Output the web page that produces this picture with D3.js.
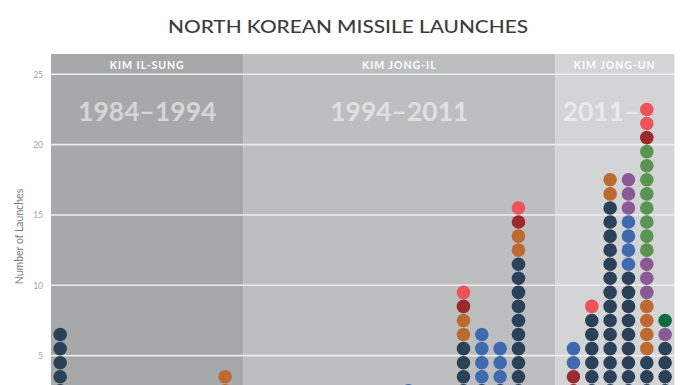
<!DOCTYPE html>
<html>
<head>
<meta charset="utf-8">
<script src="https://cdn.jsdelivr.net/npm/d3@7"></script>
<style>
  html, body { margin: 0; padding: 0; background: #ffffff; }
  svg { display: block; font-family: Lato, "Open Sans", sans-serif; }
</style>
</head>
<body>
<svg id="chart" width="696" height="385"></svg>
<script>
// ---------- DATA ----------
const years = [1984,1985,1986,1987,1988,1989,1990,1991,1992,1993,
               1994,1995,1996,1997,1998,1999,2000,2001,2002,2003,
               2004,2005,2006,2007,2008,2009,2010,2011,2012,2013,
               2014,2015,2016,2017];
const yTicks = [5, 10, 15, 20, 25];

// launches per year, by missile family (index aligned with years)
const scud      = [7,0,2,0,0,0,1,2,0,0, 0,0,0,0,0,0,0,0,0,0, 0,0,6,3,3,12,0,0,2,8, 16,11,5,6];
const toksa     = [0,0,0,0,0,0,0,0,0,0, 0,0,0,0,0,0,0,0,0,3, 0,0,0,4,3,0,0,0,2,0, 0,4,0,0];
const nodong    = [0,0,0,0,0,0,0,0,0,4, 0,0,0,0,0,0,0,0,0,0, 0,0,2,0,0,2,0,0,0,0, 2,0,4,0];
const slbm      = [0,0,0,0,0,0,0,0,0,0, 0,0,0,0,0,0,0,0,0,0, 0,0,0,0,0,0,0,0,0,0, 0,3,3,1];
const musudan   = [0,0,0,0,0,0,0,0,0,0, 0,0,0,0,0,0,0,0,0,0, 0,0,0,0,0,0,0,0,0,0, 0,0,8,0];
const hwasong   = [0,0,0,0,0,0,0,0,0,0, 0,0,0,0,0,0,0,0,0,0, 0,0,0,0,0,0,0,0,0,0, 0,0,0,1];
const taepodong = [0,0,0,0,0,0,0,0,0,0, 0,0,0,0,1,0,0,0,0,0, 0,0,1,0,0,1,0,0,2,0, 0,0,1,0];
const other     = [0,0,0,0,0,0,0,0,0,0, 0,0,0,0,0,0,0,0,0,0, 0,0,1,0,0,1,0,0,0,1, 0,0,2,0];

const seriesNames  = ["Scud", "Toksa", "Nodong", "SLBM", "Musudan", "Hwasong", "Taepodong", "Other"];
const seriesValues = [scud, toksa, nodong, slbm, musudan, hwasong, taepodong, other];
const seriesColors = ["#2b4158", "#3f6aae", "#bd6a30", "#8a5a95", "#5a9450", "#0e6b40", "#9c2a2c", "#ef535a"];
const stackOrder     = ["Scud", "Toksa", "Nodong", "SLBM", "Musudan", "Hwasong", "Taepodong", "Other"];
const stackOrder2012 = ["Scud", "Taepodong", "Toksa"];

const eraNames  = ["KIM IL-SUNG", "KIM JONG-IL", "KIM JONG-UN"];
const eraLabels = ["1984\u20131994", "1994\u20132011", "2011\u2013"];
const eraStart  = [1984, 1994, 2011];
const eraEnd    = [1994, 2011, 2017];
const eraColors = ["#a7a8aa", "#bdbec0", "#d3d4d6"];

// ---------- LAYOUT ----------
const svg = d3.select("#chart");
const plotLeft = 51, plotRight = 674.3, plotTop = 54;

const x = d3.scaleBand().domain(years).range([plotLeft, plotRight]).padding(0);
const y = d3.scaleLinear().domain([0, 25]).range([426, 74.3]);
const color = d3.scaleOrdinal().domain(seriesNames).range(seriesColors);
const bw = x.bandwidth();
const cx = yr => x(yr) + bw / 2;

// title
svg.append("text")
  .attr("x", 348).attr("y", 33.3)
  .attr("text-anchor", "middle")
  .attr("font-size", 17.6)
  .attr("font-weight", 500)
  .attr("fill", "#3c3c3c")
  .attr("textLength", 360).attr("lengthAdjust", "spacingAndGlyphs")
  .text("NORTH KOREAN MISSILE LAUNCHES");

// era panels
const eras = eraNames.map((n, i) => ({
  name: n, label: eraLabels[i], color: eraColors[i],
  x0: i === 0 ? plotLeft : cx(eraStart[i]),
  x1: i === eraNames.length - 1 ? plotRight : cx(eraEnd[i])
}));

svg.append("g").selectAll("rect").data(eras).join("rect")
  .attr("x", d => d.x0).attr("y", plotTop)
  .attr("width", d => d.x1 - d.x0).attr("height", y(0) - plotTop + 40)
  .attr("fill", d => d.color);

// grid lines
svg.append("g").selectAll("line").data(yTicks).join("line")
  .attr("x1", plotLeft).attr("x2", plotRight)
  .attr("y1", d => y(d)).attr("y2", d => y(d))
  .attr("stroke", "#ececec").attr("stroke-width", 1.6);

// y axis labels
const yAxis = d3.axisLeft(y).tickValues(yTicks).tickSize(0).tickPadding(0);
const gy = svg.append("g").attr("transform", "translate(43,0)").call(yAxis);
gy.select(".domain").remove();
gy.selectAll("text")
  .attr("font-family", "Lato, sans-serif")
  .attr("font-size", 8.5)
  .attr("fill", "#a3a3a3");

svg.append("text")
  .attr("transform", "translate(22.5,236.5) rotate(-90)")
  .attr("text-anchor", "middle")
  .attr("font-size", 10.5)
  .attr("fill", "#7a7a7a")
  .text("Number of Launches");

// era headers
svg.append("g").selectAll("text").data(eras).join("text")
  .attr("x", d => (d.x0 + d.x1) / 2).attr("y", 69)
  .attr("text-anchor", "middle")
  .attr("font-size", 10.5)
  .attr("font-weight", 700)
  .attr("letter-spacing", 1.0)
  .attr("fill", "#ffffff")
  .text(d => d.name);

// big era years
svg.append("g").selectAll("text").data(eras).join("text")
  .attr("x", (d, i) => i === eras.length - 1 ? d.x0 + 7.5 : (d.x0 + d.x1) / 2)
  .attr("y", 121)
  .attr("text-anchor", (d, i) => i === eras.length - 1 ? "start" : "middle")
  .attr("font-size", 26.5)
  .attr("font-weight", 700)
  .attr("fill", "#ffffff")
  .attr("fill-opacity", 0.55)
  .text(d => d.label);

// dots
const dots = [];
years.forEach((yr, i) => {
  const order = yr === 2012 ? stackOrder2012 : stackOrder;
  let k = 0;
  order.forEach(name => {
    const n = seriesValues[seriesNames.indexOf(name)][i];
    for (let j = 0; j < n; j++) {
      dots.push({ year: yr, series: name, level: k });
      k++;
    }
  });
});

svg.append("g").selectAll("circle").data(dots).join("circle")
  .attr("cx", d => cx(d.year))
  .attr("cy", d => y(d.level + 0.5))
  .attr("r", 6.8)
  .attr("fill", d => color(d.series));
</script>
</body>
</html>
